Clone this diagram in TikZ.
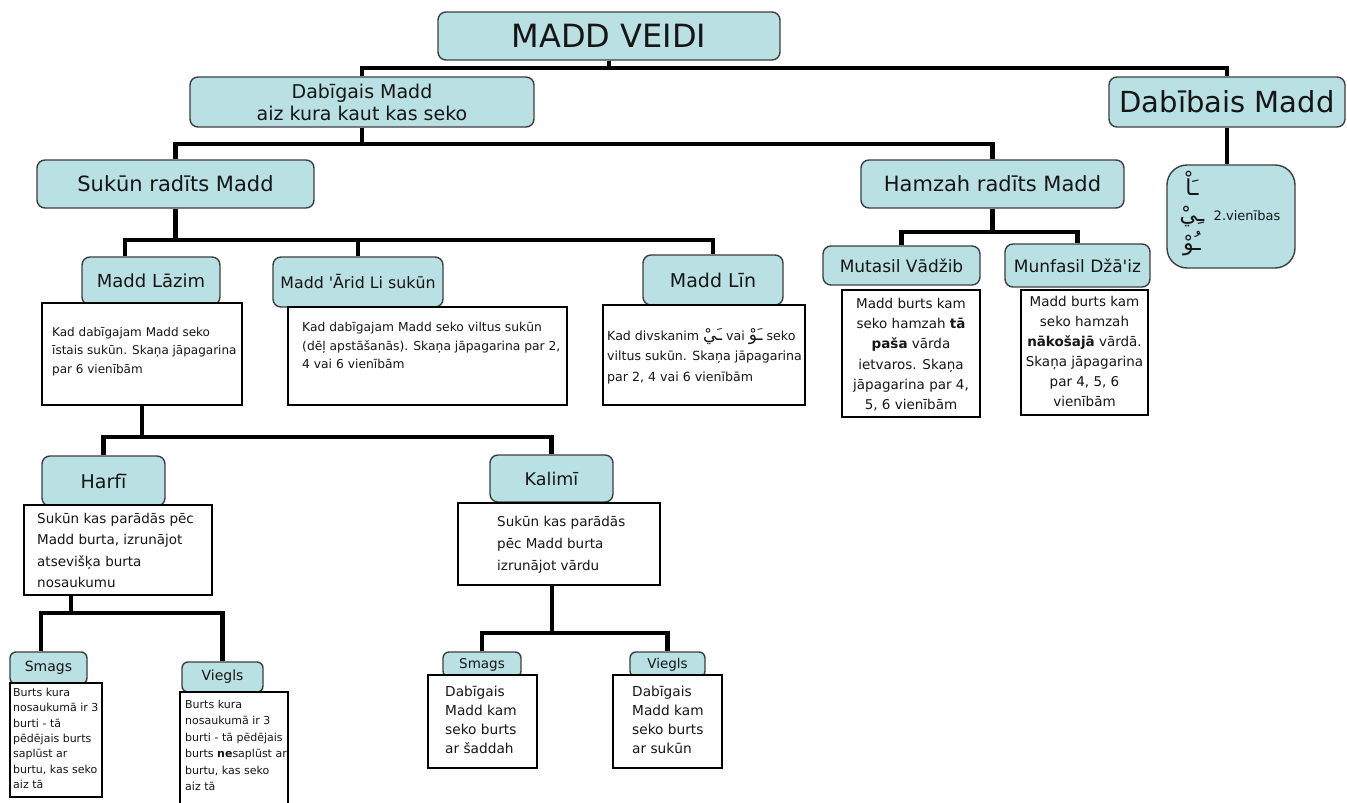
\documentclass[tikz,border=0pt]{standalone}
\usepackage{fontspec}
\setmainfont{DejaVu Sans}
\newfontfamily\arabicfont[Script=Arabic]{DejaVu Sans}
\TeXXeTstate=1
\lineskiplimit=-100pt
\definecolor{tealfill}{RGB}{185,224,227}
\definecolor{tealedge}{RGB}{62,62,62}
\definecolor{ink}{RGB}{22,22,22}
\newcommand\fsz[2]{\fontsize{#1}{#2}\selectfont}
\newcommand\apos{{\addfontfeature{Ligatures=TeXOff}'}}
\newcommand\ar[1]{{\arabicfont\fsz{17}{17}\beginR #1\endR}}
\pgfdeclarelayer{bg}
\pgfsetlayers{bg,main}
\tikzset{
  lbl/.style={draw=tealedge, fill=tealfill, line width=1.4pt, rounded corners=8pt,
              inner sep=0pt, text=ink, align=center},
  wbox/.style={draw=black, fill=white, line width=1.8pt, inner sep=0pt},
  wtext/.style={inner sep=0pt, anchor=north west, align=left, text=ink},
  ctext/.style={inner sep=0pt, anchor=north, align=center, text=ink},
  ara/.style={inner sep=0pt, anchor=base, text=ink, font=\arabicfont\fsz{22}{22}},
  conn/.style={line width=4.5pt, line join=miter}
}
\begin{document}
\begin{tikzpicture}[x=1pt,y=-1pt]
\useasboundingbox (0,0) rectangle (1347,803);
\clip (0,0) rectangle (1347,803);

% bar levels
\coordinate (lv1) at (0,68);
\coordinate (lv2) at (0,144);
\coordinate (lv3) at (0,240);
\coordinate (lv4) at (0,232);
\coordinate (lv5) at (0,437);
\coordinate (lv6) at (0,613);
\coordinate (lv7) at (0,633);

% top levels
\node[lbl, minimum width=342pt, minimum height=48pt, font=\fsz{32}{32}] (veidi) at (609,36) {MADD VEIDI};
\node[lbl, minimum width=344pt, minimum height=50pt, font=\fsz{19}{22}] (dabigais) at (362,102) {Dabīgais Madd\\aiz kura kaut kas seko};
\node[lbl, minimum width=236pt, minimum height=50pt, font=\fsz{29}{29}] (dabibais) at (1227,102) {Dabībais Madd};
\node[lbl, minimum width=277pt, minimum height=48pt, font=\fsz{21}{21}] (sukun) at (175.5,184) {Sukūn radīts Madd};
\node[lbl, minimum width=263pt, minimum height=48pt, font=\fsz{21}{21}] (hamzah) at (992.5,184) {Hamzah radīts Madd};

% natural madd box
\node[lbl, rounded corners=20pt, minimum width=128pt, minimum height=103pt] (arabox) at (1231,216.5) {};
\node[ara] (alif) at (1192,195) {\beginR ـَاْ\endR};
\node[ara] (ya) at (1192,221) {\beginR ـِيْ\endR};
\node[ara] (waw) at (1192,250) {\beginR ـُوْ\endR};
\node[inner sep=0pt, text=ink, font=\fsz{13}{13}] (units) at (1247,216) {2.vienības};

% hamzah branch
\node[lbl, minimum width=157pt, minimum height=39pt, font=\fsz{17}{17}] (mutasil) at (901.5,265.5) {Mutasil Vādžib};
\node[lbl, minimum width=145pt, minimum height=43pt, font=\fsz{17}{17}] (munfasil) at (1077.5,265.5) {Munfasil Džā\apos iz};
\node[wbox, minimum width=138pt, minimum height=127pt] (mutasilW) at (911,353.5) {};
\node[ctext, font=\fsz{13.5}{20.2}] (mutasilT) at (911,298) {Madd burts kam\\seko hamzah \textbf{tā}\\\textbf{paša} vārda\\ietvaros. Skaņa\\jāpagarina par 4,\\5, 6 vienībām};
\node[wbox, minimum width=127pt, minimum height=125pt] (munfasilW) at (1084.5,352.5) {};
\node[ctext, font=\fsz{13.5}{20}] (munfasilT) at (1084.5,296.5) {Madd burts kam\\seko hamzah\\\textbf{nākošajā} vārdā.\\Skaņa jāpagarina\\par 4, 5, 6\\vienībām};

% sukun branch
\node[lbl, minimum width=138pt, minimum height=48pt, font=\fsz{18}{18}] (lazim) at (151,281) {Madd Lāzim};
\node[wbox, minimum width=200pt, minimum height=102pt] (lazimW) at (142,354) {};
\node[wtext, font=\fsz{12}{18.5}] (lazimT) at (52,327) {Kad dabīgajam Madd seko\\īstais sukūn. Skaņa jāpagarina\\par 6 vienībām};

\node[lbl, minimum width=170pt, minimum height=50pt, font=\fsz{15.8}{15.8}] (arid) at (358,282) {Madd \apos Ārid Li sukūn};
\node[wbox, minimum width=279pt, minimum height=98pt] (aridW) at (427.5,356) {};
\node[wtext, font=\fsz{12.3}{18.5}] (aridT) at (302,322) {Kad dabīgajam Madd seko viltus sukūn\\(dēļ apstāšanās). Skaņa jāpagarina par 2,\\4 vai 6 vienībām};

\node[lbl, minimum width=140pt, minimum height=50pt, font=\fsz{19}{19}] (lin) at (713,280) {Madd Līn};
\node[wbox, minimum width=202pt, minimum height=100pt] (linW) at (704,355) {};
\node[wtext, font=\fsz{12.6}{20.5}] (linT) at (607,328) {Kad divskanim \ar{ـَيْ} vai \ar{ـَوْ} seko\\viltus sukūn. Skaņa jāpagarina\\par 2, 4 vai 6 vienībām};

% harfi / kalimi
\node[lbl, minimum width=123pt, minimum height=50pt, font=\fsz{19}{19}] (harfi) at (103.5,481) {Harfī};
\node[wbox, minimum width=188pt, minimum height=90pt] (harfiW) at (118,550) {};
\node[wtext, font=\fsz{13.5}{21.5}] (harfiT) at (37,513) {Sukūn kas parādās pēc\\Madd burta, izrunājot\\atsevišķa burta\\nosaukumu};

\node[lbl, minimum width=123pt, minimum height=47pt, font=\fsz{17.5}{17.5}] (kalimi) at (551.5,478.5) {Kalimī};
\node[wbox, minimum width=202pt, minimum height=82pt] (kalimiW) at (559,544) {};
\node[wtext, font=\fsz{13.5}{22}] (kalimiT) at (497,516) {Sukūn kas parādās\\pēc Madd burta\\izrunājot vārdu};

% harfi children
\node[lbl, rounded corners=6pt, minimum width=77pt, minimum height=32pt, font=\fsz{14}{14}] (smagsH) at (48.5,668) {Smags};
\node[wbox, minimum width=92pt, minimum height=114pt] (smagsHW) at (56,740) {};
\node[wtext, font=\fsz{11}{15.3}] (smagsHT) at (13,688) {Burts kura\\nosaukumā ir 3\\burti - tā\\pēdējais burts\\saplūst ar\\burtu, kas seko\\aiz tā};

\node[lbl, rounded corners=6pt, minimum width=81pt, minimum height=30pt, font=\fsz{14}{14}] (vieglsH) at (222.5,677) {Viegls};
\node[wbox, minimum width=108pt, minimum height=140pt] (vieglsHW) at (234,762) {};
\node[wtext, font=\fsz{11}{16.4}] (vieglsHT) at (185,700) {Burts kura\\nosaukumā ir 3\\burti - tā pēdējais\\burts \textbf{ne}saplūst ar\\burtu, kas seko\\aiz tā};

% kalimi children
\node[lbl, rounded corners=6pt, minimum width=78pt, minimum height=25pt, font=\fsz{13.5}{13.5}] (smagsK) at (482,664.5) {Smags};
\node[wbox, minimum width=109pt, minimum height=93pt] (smagsKW) at (482.5,721.5) {};
\node[wtext, font=\fsz{13.7}{19}] (smagsKT) at (445,686) {Dabīgais\\Madd kam\\seko burts\\ar šaddah};

\node[lbl, rounded corners=6pt, minimum width=75pt, minimum height=25pt, font=\fsz{13.5}{13.5}] (vieglsK) at (667.5,664.5) {Viegls};
\node[wbox, minimum width=109pt, minimum height=93pt] (vieglsKW) at (667.5,721.5) {};
\node[wtext, font=\fsz{13.7}{19}] (vieglsKT) at (632,686) {Dabīgais\\Madd kam\\seko burts\\ar sukūn};

% connectors
\begin{pgfonlayer}{bg}
\draw[conn] (veidi.south) -- (veidi.south |- lv1);
\draw[conn] (dabigais.north) |- (dabibais.north |- lv1) -- (dabibais.north);
\draw[conn] (dabigais.south) -- (dabigais.south |- lv2);
\draw[conn] (sukun.north) |- (hamzah.north |- lv2) -- (hamzah.north);
\draw[conn] (dabibais.south) -- (dabibais.south |- arabox.north);
\draw[conn] (hamzah.south) -- (hamzah.south |- lv4);
\draw[conn] (mutasil.north) |- (munfasil.north |- lv4) -- (munfasil.north);
\draw[conn] (sukun.south) -- (sukun.south |- lv3);
\draw[conn] ([xshift=-26pt]lazim.north) |- (lin.north |- lv3) -- (lin.north);
\draw[conn] (arid.north) -- (arid.north |- lv3);
\draw[conn] (lazimW.south) -- (lazimW.south |- lv5);
\draw[conn] (harfi.north) |- (kalimi.north |- lv5) -- (kalimi.north);
\draw[conn] ([xshift=-47pt]harfiW.south) -- ([xshift=-47pt]harfiW.south |- lv6);
\draw[conn] ([xshift=-7.5pt]smagsH.north) |- (vieglsH.north |- lv6) -- (vieglsH.north);
\draw[conn] ([xshift=-7pt]kalimiW.south) -- ([xshift=-7pt]kalimiW.south |- lv7);
\draw[conn] (smagsK.north) |- (vieglsK.north |- lv7) -- (vieglsK.north);
\end{pgfonlayer}
\end{tikzpicture}
\end{document}
